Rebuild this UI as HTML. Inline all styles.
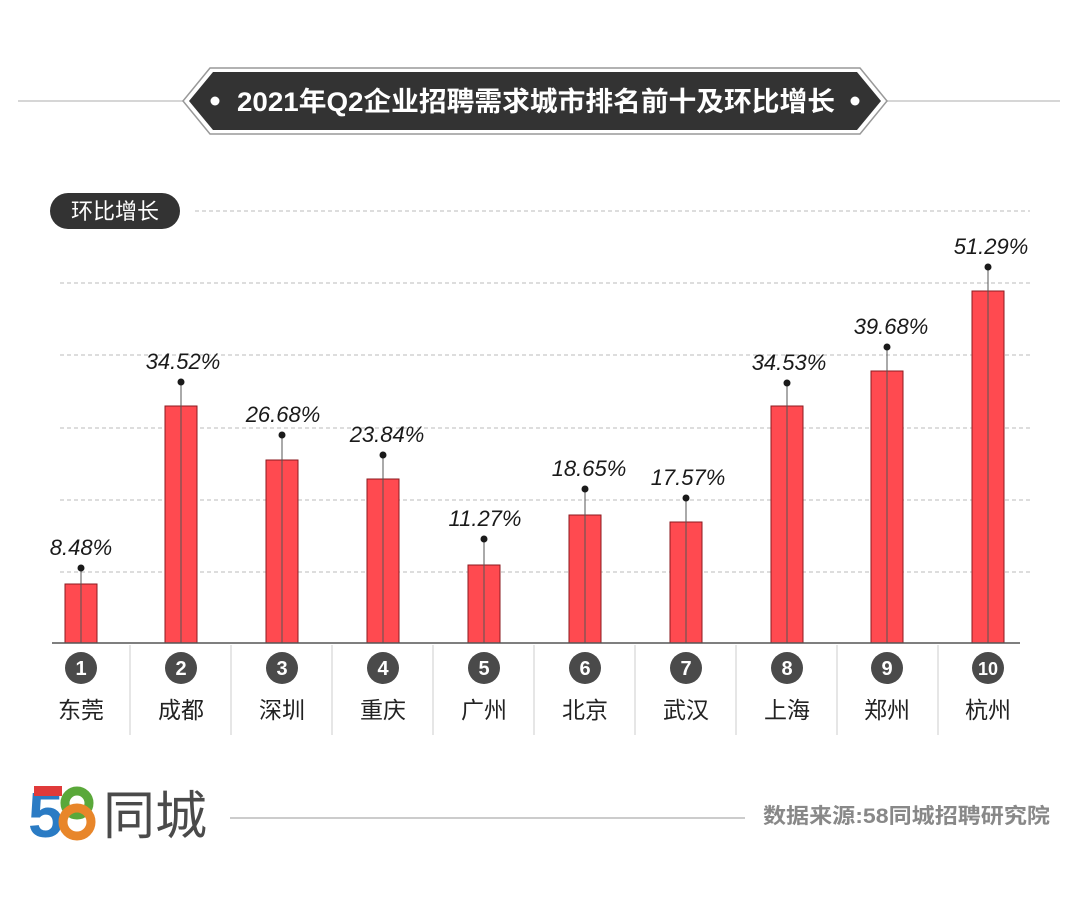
<!DOCTYPE html>
<html><head><meta charset="utf-8"><style>
html,body{margin:0;padding:0;background:#fff;}
svg{display:block;}
</style></head><body>
<svg width="1080" height="904" viewBox="0 0 1080 904" xmlns="http://www.w3.org/2000/svg" font-family="'Liberation Sans','Noto Sans CJK SC',sans-serif">
<rect width="1080" height="904" fill="#fff"/>
<line x1="18" y1="101" x2="1060" y2="101" stroke="#c8c8c8" stroke-width="1.5"/>
<polygon points="183,101 210,68 860,68 887,101 860,134 210,134" fill="#fff" stroke="#999" stroke-width="1.5"/>
<polygon points="189,101 213,72 857,72 881,101 857,130 213,130" fill="#333"/>
<circle cx="215" cy="101" r="4.5" fill="#fff"/>
<circle cx="855" cy="101" r="4.5" fill="#fff"/>
<text x="536" y="111" text-anchor="middle" font-size="27" font-weight="bold" fill="#fff" textLength="598" lengthAdjust="spacingAndGlyphs">2021年Q2企业招聘需求城市排名前十及环比增长</text>
<rect x="50" y="193" width="130" height="36" rx="18" fill="#333"/>
<text x="115" y="219" text-anchor="middle" font-size="22" fill="#fff">环比增长</text>
<g stroke="#bbb" stroke-width="1" stroke-dasharray="4,3">
<line x1="195" y1="211" x2="1030" y2="211"/>
<line x1="60" y1="283" x2="1030" y2="283"/>
<line x1="60" y1="355" x2="1030" y2="355"/>
<line x1="60" y1="428" x2="1030" y2="428"/>
<line x1="60" y1="500" x2="1030" y2="500"/>
<line x1="60" y1="572" x2="1030" y2="572"/>
</g>
<g stroke="#8b1a1f" stroke-width="1">
<rect x="65" y="584" width="32" height="59" fill="#ff4a50"/>
<rect x="165" y="406" width="32" height="237" fill="#ff4a50"/>
<rect x="266" y="460" width="32" height="183" fill="#ff4a50"/>
<rect x="367" y="479" width="32" height="164" fill="#ff4a50"/>
<rect x="468" y="565" width="32" height="78" fill="#ff4a50"/>
<rect x="569" y="515" width="32" height="128" fill="#ff4a50"/>
<rect x="670" y="522" width="32" height="121" fill="#ff4a50"/>
<rect x="771" y="406" width="32" height="237" fill="#ff4a50"/>
<rect x="871" y="371" width="32" height="272" fill="#ff4a50"/>
<rect x="972" y="291" width="32" height="352" fill="#ff4a50"/>
</g>
<g stroke="#555" stroke-width="1">
<line x1="81" y1="568" x2="81" y2="643"/>
<line x1="181" y1="382" x2="181" y2="643"/>
<line x1="282" y1="435" x2="282" y2="643"/>
<line x1="383" y1="455" x2="383" y2="643"/>
<line x1="484" y1="539" x2="484" y2="643"/>
<line x1="585" y1="489" x2="585" y2="643"/>
<line x1="686" y1="498" x2="686" y2="643"/>
<line x1="787" y1="383" x2="787" y2="643"/>
<line x1="887" y1="347" x2="887" y2="643"/>
<line x1="988" y1="267" x2="988" y2="643"/>
</g>
<g fill="#1a1a1a">
<circle cx="81" cy="568" r="3.5"/><circle cx="181" cy="382" r="3.5"/><circle cx="282" cy="435" r="3.5"/><circle cx="383" cy="455" r="3.5"/><circle cx="484" cy="539" r="3.5"/><circle cx="585" cy="489" r="3.5"/><circle cx="686" cy="498" r="3.5"/><circle cx="787" cy="383" r="3.5"/><circle cx="887" cy="347" r="3.5"/><circle cx="988" cy="267" r="3.5"/>
</g>
<g font-size="22" font-style="italic" fill="#1a1a1a" text-anchor="middle">
<text x="81" y="555">8.48%</text>
<text x="183" y="369">34.52%</text>
<text x="283" y="422">26.68%</text>
<text x="387" y="442">23.84%</text>
<text x="485" y="526">11.27%</text>
<text x="589" y="476">18.65%</text>
<text x="688" y="485">17.57%</text>
<text x="789" y="370">34.53%</text>
<text x="891" y="334">39.68%</text>
<text x="991" y="254">51.29%</text>
</g>
<line x1="52" y1="643" x2="1020" y2="643" stroke="#555" stroke-width="1.5"/>
<g stroke="#ccc" stroke-width="1">
<line x1="130" y1="645" x2="130" y2="735"/><line x1="231" y1="645" x2="231" y2="735"/><line x1="332" y1="645" x2="332" y2="735"/><line x1="433" y1="645" x2="433" y2="735"/><line x1="534" y1="645" x2="534" y2="735"/><line x1="635" y1="645" x2="635" y2="735"/><line x1="736" y1="645" x2="736" y2="735"/><line x1="837" y1="645" x2="837" y2="735"/><line x1="938" y1="645" x2="938" y2="735"/>
</g>
<g fill="#4a4a4a">
<circle cx="81" cy="668" r="16"/><circle cx="181" cy="668" r="16"/><circle cx="282" cy="668" r="16"/><circle cx="383" cy="668" r="16"/><circle cx="484" cy="668" r="16"/><circle cx="585" cy="668" r="16"/><circle cx="686" cy="668" r="16"/><circle cx="787" cy="668" r="16"/><circle cx="887" cy="668" r="16"/><circle cx="988" cy="668" r="16"/>
</g>
<g fill="#fff" font-size="20" font-weight="bold" text-anchor="middle">
<text x="81" y="675">1</text><text x="181" y="675">2</text><text x="282" y="675">3</text><text x="383" y="675">4</text><text x="484" y="675">5</text><text x="585" y="675">6</text><text x="686" y="675">7</text><text x="787" y="675">8</text><text x="887" y="675">9</text><text x="988" y="675" font-size="18">10</text>
</g>
<g fill="#222" font-size="23" text-anchor="middle">
<text x="81" y="718">东莞</text><text x="181" y="718">成都</text><text x="282" y="718">深圳</text><text x="383" y="718">重庆</text><text x="484" y="718">广州</text><text x="585" y="718">北京</text><text x="686" y="718">武汉</text><text x="787" y="718">上海</text><text x="887" y="718">郑州</text><text x="988" y="718">杭州</text>
</g>
<g font-size="64" font-weight="bold">
<text x="28" y="837" fill="#2a7bc4">5</text>
<circle cx="77" cy="803" r="12" fill="none" stroke="#5aa83a" stroke-width="9"/>
<circle cx="77" cy="822" r="14" fill="none" stroke="#e8862a" stroke-width="9"/>
<rect x="34" y="786" width="28" height="10" fill="#e03a3a"/>
</g>
<text x="103" y="834" font-size="52" fill="#4a4a4a">同城</text>
<line x1="230" y1="818" x2="745" y2="818" stroke="#bbb" stroke-width="1.5"/>
<text x="1050" y="823" text-anchor="end" font-size="21" font-weight="bold" fill="#888" textLength="287" lengthAdjust="spacingAndGlyphs">数据来源:58同城招聘研究院</text>
</svg>
</body></html>
